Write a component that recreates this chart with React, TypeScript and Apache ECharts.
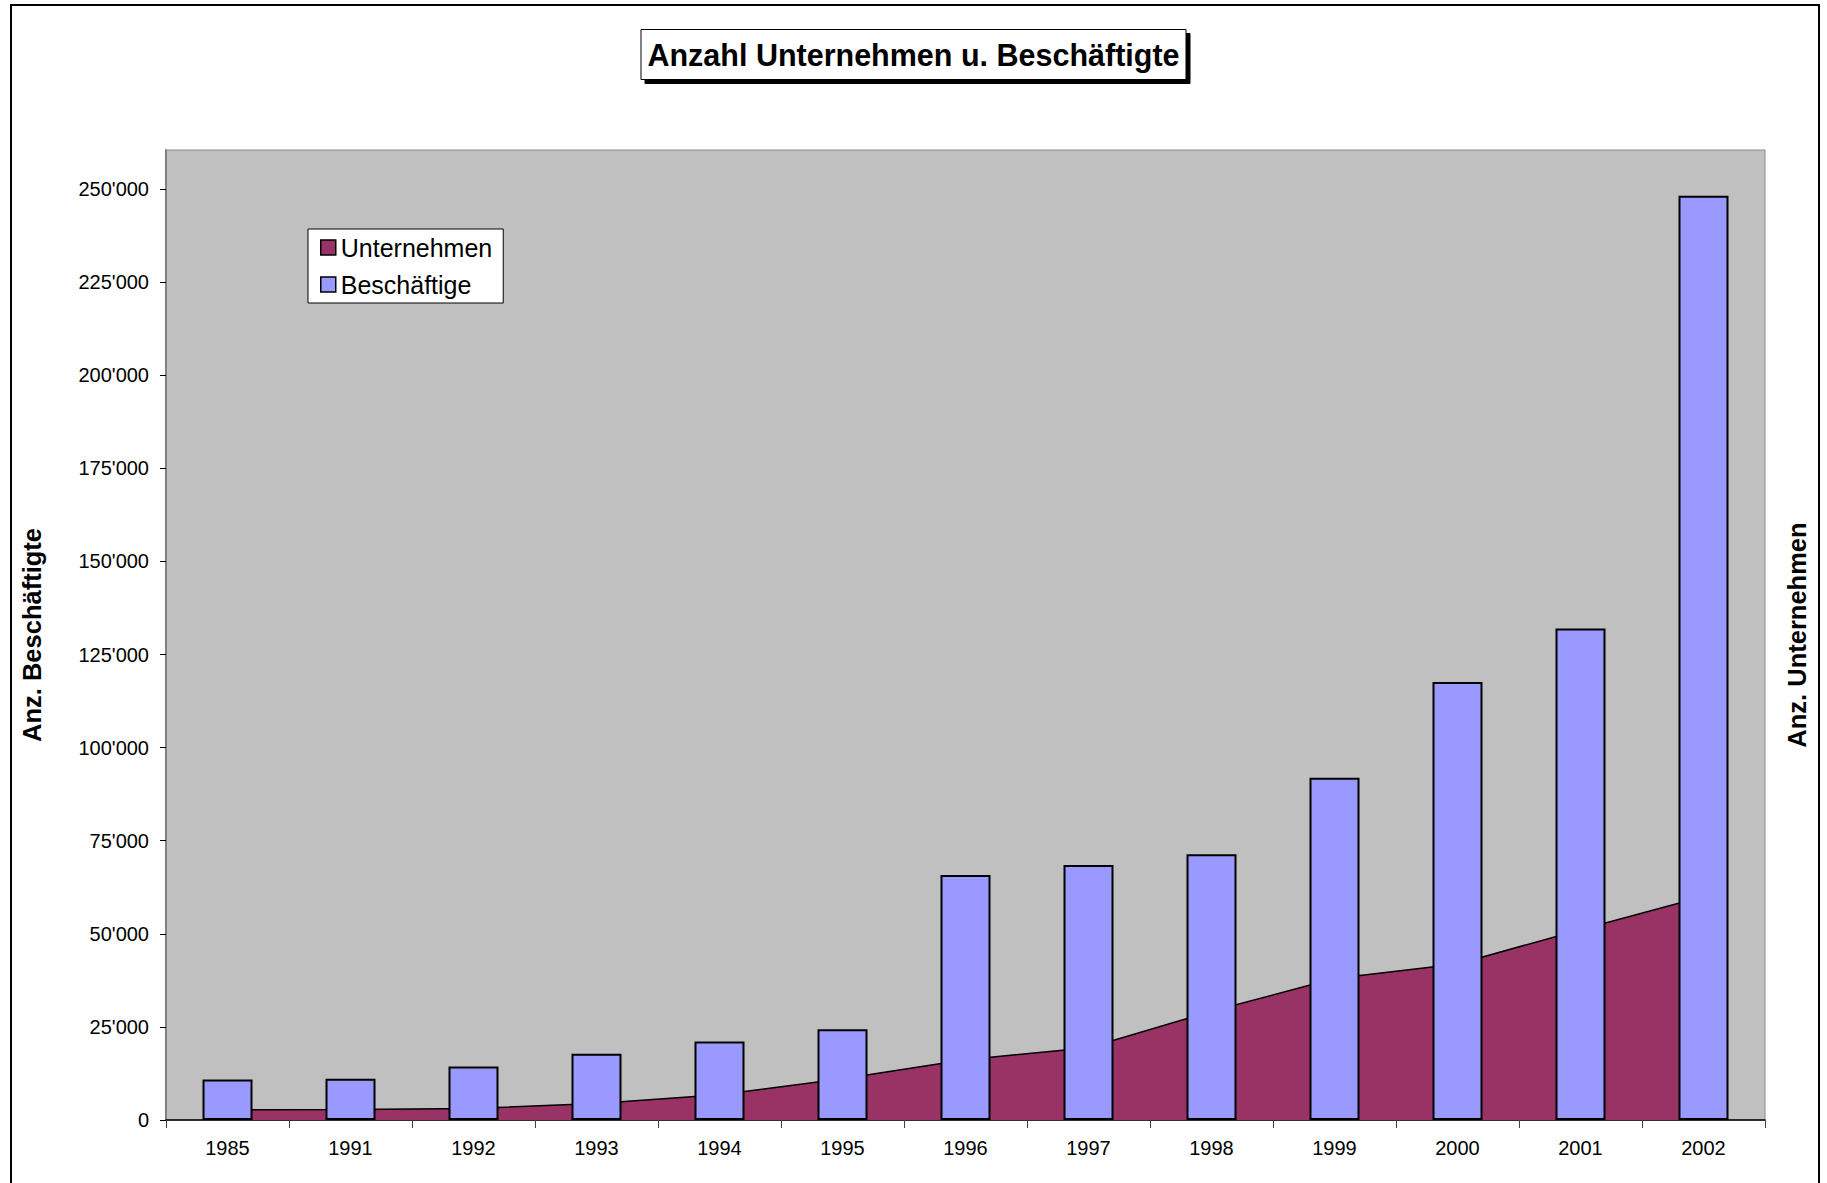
import React, { useEffect, useRef } from "react";
import * as echarts from "echarts";

const years = ["1985", "1991", "1992", "1993", "1994", "1995", "1996", "1997", "1998", "1999", "2000", "2001", "2002"];
const beschaeftigte = [10900, 11100, 14400, 17800, 21100, 24400, 65800, 68500, 71400, 91900, 117600, 132000, 248200];
const unternehmen = [2700, 2800, 3100, 4400, 6800, 11100, 16200, 19400, 29200, 38000, 41900, 51100, 60000];
const yTicks = [0, 25000, 50000, 75000, 100000, 125000, 150000, 175000, 200000, 225000, 250000];

const FONT = "'Liberation Sans', Arial, sans-serif";

const fmt = (v: number) => {
  const s = Math.round(v).toString();
  return s.replace(/\B(?=(\d{3})+(?!\d))/g, "'");
};

export default function App() {
  const ref = useRef<HTMLDivElement>(null);

  useEffect(() => {
    if (!ref.current) return;
    const chart = echarts.init(ref.current, null, { renderer: "svg" });
    chart.setOption({
      animation: false,
      backgroundColor: "#ffffff",
      textStyle: { fontFamily: FONT },
      title: {
        text: "Anzahl Unternehmen u. Beschäftigte",
        left: "center",
        top: 29,
        padding: [10, 7],
        backgroundColor: "#ffffff",
        borderColor: "#000",
        borderWidth: 1,
        shadowColor: "#000",
        shadowOffsetX: 4,
        shadowOffsetY: 4,
        shadowBlur: 0,
        textStyle: { fontFamily: FONT, fontSize: 30.5, fontWeight: "bold", color: "#000" },
      },
      legend: {
        orient: "vertical",
        left: 308,
        top: 229,
        padding: [6, 11, 6, 12],
        backgroundColor: "#ffffff",
        borderColor: "#000",
        borderWidth: 1,
        itemWidth: 15,
        itemHeight: 15,
        itemGap: 12,
        textStyle: { fontFamily: FONT, fontSize: 25, color: "#000" },
        data: [
          { name: "Unternehmen", icon: "rect", itemStyle: { color: "#993366", borderColor: "#000", borderWidth: 1.5 } },
          { name: "Beschäftige", icon: "rect", itemStyle: { color: "#9999FF", borderColor: "#000", borderWidth: 1.5 } },
        ],
      },
      grid: {
        left: 166,
        right: 62,
        top: 150,
        bottom: 63,
        show: true,
        backgroundColor: "#C0C0C0",
        borderColor: "#8a8a8a",
        borderWidth: 1,
      },
      xAxis: {
        type: "category",
        data: years,
        boundaryGap: true,
        axisLine: { show: true, lineStyle: { color: "#000", width: 1.5 } },
        axisTick: { show: true, length: 8, lineStyle: { color: "#404040", width: 1 } },
        axisLabel: { fontFamily: FONT, fontSize: 20, color: "#000", margin: 18 },
        splitLine: { show: false },
      },
      yAxis: [
        {
          type: "value",
          min: 0,
          max: 260500,
          position: "left",
          name: "Anz. Beschäftigte",
          nameLocation: "middle",
          nameGap: 121,
          nameRotate: 90,
          nameTextStyle: { fontFamily: FONT, fontSize: 25.5, fontWeight: "bold", color: "#000" },
          axisLine: { show: true, lineStyle: { color: "#808080", width: 2 } },
          axisTick: { show: true, length: 6, customValues: yTicks, lineStyle: { color: "#000", width: 1 } },
          axisLabel: {
            fontFamily: FONT,
            fontSize: 20,
            color: "#000",
            margin: 17,
            customValues: yTicks,
            formatter: (v: number) => fmt(v),
          },
          splitLine: { show: false },
        },
        {
          type: "value",
          min: 0,
          max: 260500,
          position: "right",
          name: "Anz. Unternehmen",
          nameLocation: "middle",
          nameGap: 19,
          nameRotate: 90,
          nameTextStyle: { fontFamily: FONT, fontSize: 25.5, fontWeight: "bold", color: "#000" },
          axisLine: { show: false },
          axisTick: { show: false },
          axisLabel: { show: false },
          splitLine: { show: false },
        },
      ],
      series: [
        {
          name: "Unternehmen",
          type: "line",
          yAxisIndex: 1,
          data: unternehmen,
          symbol: "none",
          z: 2,
          itemStyle: { color: "#993366" },
          lineStyle: { color: "#000", width: 1.5 },
          areaStyle: { color: "#993366", opacity: 1 },
        },
        {
          name: "Beschäftige",
          type: "bar",
          yAxisIndex: 0,
          data: beschaeftigte,
          barWidth: 50,
          z: 3,
          itemStyle: { color: "#9999FF", borderColor: "#000", borderWidth: 2 },
        },
      ],
      graphic: [
        {
          type: "rect",
          silent: true,
          z: 100,
          shape: { x: 11, y: 5, width: 1808, height: 1200 },
          style: { fill: "none", stroke: "#000", lineWidth: 2 },
        },
      ],
    });
    return () => chart.dispose();
  }, []);

  return (
    <div
      ref={ref}
      style={{ position: "fixed", left: 0, top: 0, width: 1827, height: 1183, background: "#fff" }}
    />
  );
}
